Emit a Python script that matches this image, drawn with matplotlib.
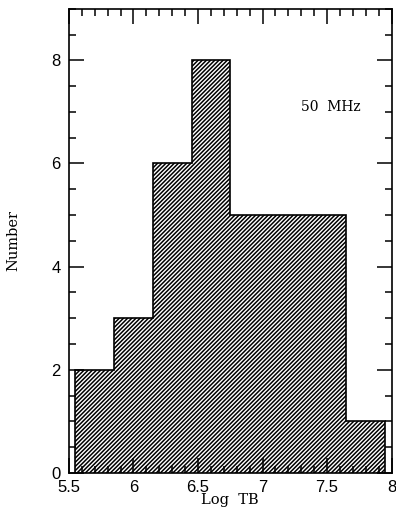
import numpy as np
import matplotlib
matplotlib.use("Agg")
import matplotlib.pyplot as plt
from matplotlib.ticker import MultipleLocator

# data
bin_edges = [5.55, 5.85, 6.15, 6.45, 6.75, 7.05, 7.35, 7.65, 7.95]
counts = [2, 3, 6, 8, 5, 5, 5, 1]
freq_label = "50  MHz"

plt.rcParams['hatch.linewidth'] = 1.1

fig = plt.figure(figsize=(3.96, 5.14), dpi=100)
ax = fig.add_axes([0.174, 0.080, 0.815, 0.903])

# histogram drawn as a stepped bar outline with hatch
ax.stairs(counts, bin_edges, baseline=0, fill=True, facecolor="white",
          edgecolor="black", hatch="/" * 8, linewidth=1.2)

ax.set_xlim(5.5, 8.0)
ax.set_ylim(0, 9)

ax.xaxis.set_major_locator(MultipleLocator(0.5))
ax.xaxis.set_minor_locator(MultipleLocator(0.1))
ax.yaxis.set_major_locator(MultipleLocator(2))
ax.yaxis.set_minor_locator(MultipleLocator(0.5))
ax.set_xticks([5.5, 6, 6.5, 7, 7.5, 8])
ax.set_xticklabels(["5.5", "6", "6.5", "7", "7.5", "8"])

ax.tick_params(which="both", direction="in", top=True, right=True,
               width=1.1, labelsize=12)
ax.tick_params(axis="x", pad=5)
ax.tick_params(axis="y", pad=6)
ax.tick_params(which="major", length=11)
ax.tick_params(which="minor", length=5)
for lab in ax.get_xticklabels() + ax.get_yticklabels():
    lab.set_family("Liberation Sans")

for s in ax.spines.values():
    s.set_linewidth(1.2)

ax.set_xlabel("Log  TB", family="DejaVu Serif", fontsize=10.5, labelpad=-1)
ax.set_ylabel("Number", family="DejaVu Serif", fontsize=10.5, labelpad=22)

ax.text(7.3, 7.09, freq_label, family="DejaVu Serif", fontsize=10,
        ha="left", va="center")

fig.savefig("out.png", dpi=100)
